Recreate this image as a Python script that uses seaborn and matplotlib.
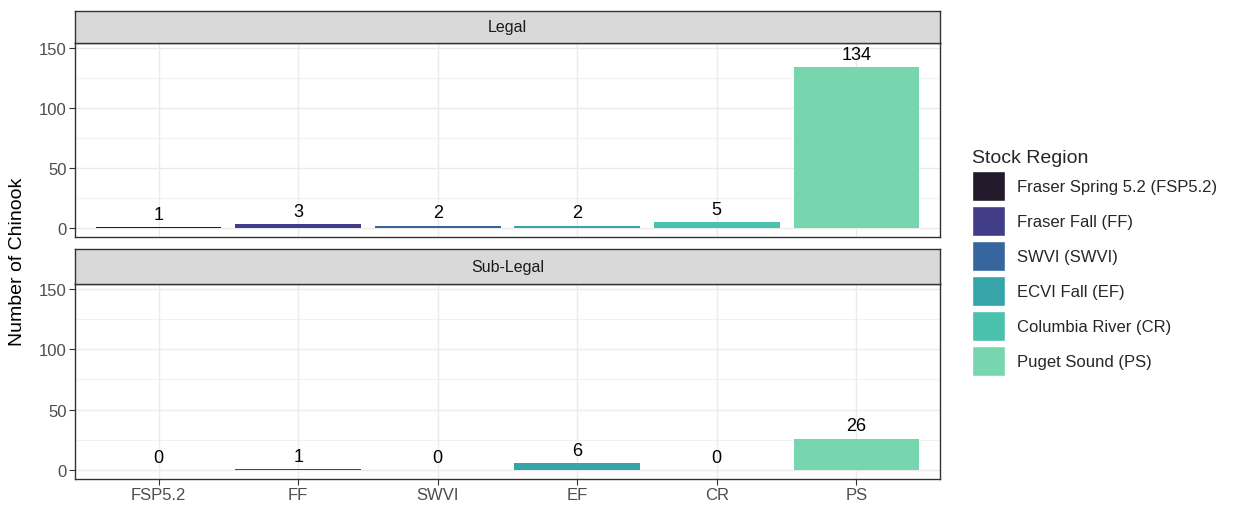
import pandas as pd
import numpy as np
import matplotlib.pyplot as plt
import matplotlib.patches as mpatches
import seaborn as sns

# data
codes = ["FSP5.2", "FF", "SWVI", "EF", "CR", "PS"]
regions = ["Fraser Spring 5.2 (FSP5.2)", "Fraser Fall (FF)", "SWVI (SWVI)",
           "ECVI Fall (EF)", "Columbia River (CR)", "Puget Sound (PS)"]
legal = [1, 3, 2, 2, 5, 134]
sublegal = [0, 1, 0, 6, 0, 26]
panels = ["Legal", "Sub-Legal"]
colors = ["#221A2B", "#413E87", "#37659E", "#35A5A9", "#49C1AD", "#78D6AE"]

sns.set_theme(style="white")
plt.rcParams['font.family'] = ['Liberation Sans', 'DejaVu Sans']

fig = plt.figure(figsize=(12.36, 5.06), dpi=100)
W, H = 1236, 506

def px_axes(x0, y0, x1, y1):
    return fig.add_axes([x0 / W, 1 - y1 / H, (x1 - x0) / W, (y1 - y0) / H])

panel_boxes = [(44, 238, 12), (285, 480, 250)]
values = [legal, sublegal]

for (top, bot, stop), name, vals in zip(panel_boxes, panels, values):
    ax = px_axes(75, top, 940, bot)
    df = pd.DataFrame({"code": codes, "count": vals, "region": regions})
    sns.barplot(data=df, x="code", y="count", hue="region", palette=colors,
                dodge=False, width=0.9, linewidth=0, saturation=1, ax=ax,
                legend=False, order=codes, hue_order=regions)
    ax.set_ylim(-7.5, 154)
    ax.set_xlim(-0.6, 5.6)
    ax.set_yticks([0, 50, 100, 150])
    ax.set_yticks([25, 75, 125], minor=True)
    ax.grid(True, which="major", color="#EBEBEB", linewidth=1.0)
    ax.grid(True, which="minor", axis="y", color="#EBEBEB", linewidth=0.5)
    ax.set_axisbelow(True)
    ax.tick_params(axis="both", which="major", length=4, width=0.8,
                   color="#333333", labelcolor="#4D4D4D", labelsize=12,
                   left=True, bottom=True, pad=2)
    ax.tick_params(axis="y", which="minor", length=0)
    for s in ax.spines.values():
        s.set_color("#333333")
        s.set_linewidth(1.0)
    ax.set_xlabel("")
    ax.set_ylabel("")
    if name == "Legal":
        ax.set_xticklabels([])
        ax.tick_params(axis="x", length=0)
    for i, v in enumerate(vals):
        ax.annotate(str(v), (i, v), xytext=(0, 3), textcoords="offset points",
                    ha="center", va="bottom", fontsize=13, color="black")

    # facet strip
    sax = px_axes(75, stop, 940, top)
    sax.set_facecolor("#D9D9D9")
    sax.set_xticks([])
    sax.set_yticks([])
    for s in sax.spines.values():
        s.set_color("#333333")
        s.set_linewidth(1.0)
    sax.text(0.5, 0.5, name, ha="center", va="center", fontsize=11.5,
             color="#1A1A1A", transform=sax.transAxes)

fig.text(18 / W, 1 - 262 / H, "Number of Chinook", rotation=90,
         ha="center", va="center", fontsize=14, color="black")

handles = [mpatches.Patch(facecolor=c, edgecolor="white", label=r)
           for c, r in zip(colors, regions)]
leg = fig.legend(handles=handles, title="Stock Region", loc="upper left",
                 bbox_to_anchor=(965 / W, 1 - 143 / H), frameon=False,
                 fontsize=12, title_fontsize=14, handlelength=2.0,
                 handleheight=2.4, labelspacing=0.3, handletextpad=0.7,
                 borderaxespad=0)
leg._legend_box.align = "left"

fig.savefig("out.png", dpi=100)
